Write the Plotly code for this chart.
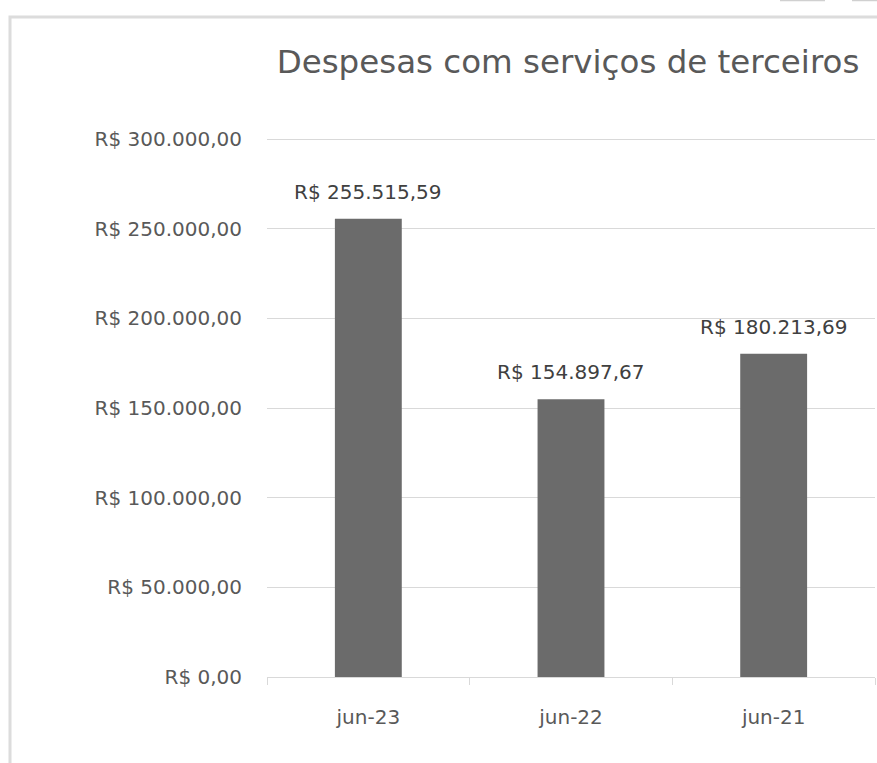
import plotly.graph_objects as go

categories = ["jun-23", "jun-22", "jun-21"]
values = [255515.59, 154897.67, 180213.69]
y_ticks = [0, 50000, 100000, 150000, 200000, 250000, 300000]
title_text = "Despesas com serviços de terceiros"


def brl(v):
    s = f"{v:,.2f}"
    s = s.replace(",", "X").replace(".", ",").replace("X", ".")
    return "R$ " + s


FONT = "DejaVu Sans"
W, H = 877, 763
L, R, T, B = 267, 2, 138, 86
pw, ph = W - L - R, H - T - B


def px_x(p):
    return (p - L) / pw


def px_y(p):
    return (H - B - p) / ph


fig = go.Figure()
fig.add_trace(go.Bar(
    x=categories, y=values,
    marker=dict(color="#6b6b6b", line=dict(width=0)),
    hoverinfo="skip",
))

for c, v in zip(categories, values):
    fig.add_annotation(
        x=c, y=v, text=brl(v), showarrow=False,
        yanchor="bottom", yshift=13,
        font=dict(family=FONT, size=20, color="#404040"),
    )

shapes = [
    dict(type="rect", xref="paper", yref="paper",
         x0=px_x(10), x1=px_x(1000), y0=px_y(900), y1=px_y(17),
         line=dict(color="#dcdcdc", width=3), fillcolor="rgba(0,0,0,0)", layer="below"),
    dict(type="line", xref="paper", yref="paper",
         x0=px_x(780), x1=px_x(825), y0=px_y(0.5), y1=px_y(0.5),
         line=dict(color="#d0d0d0", width=1.5)),
    dict(type="line", xref="paper", yref="paper",
         x0=px_x(852), x1=px_x(880), y0=px_y(0.5), y1=px_y(0.5),
         line=dict(color="#d0d0d0", width=1.5)),
]

fig.update_layout(
    width=W, height=H,
    margin=dict(l=L, r=R, t=T, b=B),
    paper_bgcolor="white", plot_bgcolor="white",
    bargap=0.67,
    showlegend=False,
    shapes=shapes,
    title=dict(
        text=title_text, xref="container", x=568 / W, xanchor="center",
        yref="container", y=1 - 62 / H, yanchor="middle",
        font=dict(family=FONT, size=32.5, color="#595959"),
    ),
    xaxis=dict(
        type="category",
        tickson="boundaries",
        ticks="outside", ticklen=7, tickcolor="#d9d9d9", tickwidth=1,
        showline=True, linecolor="#d9d9d9", linewidth=1,
        showgrid=False,
        tickfont=dict(family=FONT, size=20, color="#595959"),
        ticklabelstandoff=22,
    ),
    yaxis=dict(
        range=[0, 300600],
        tickvals=y_ticks,
        ticktext=[brl(v) for v in y_ticks],
        showgrid=True, gridcolor="#d9d9d9", gridwidth=1,
        zeroline=False,
        showline=False,
        ticks="",
        ticklabelstandoff=24,
        tickfont=dict(family=FONT, size=20, color="#595959"),
    ),
    font=dict(family=FONT),
)

fig.write_html(
    "out.html",
    config={"displayModeBar": False},
    post_script="document.body.style.margin='0';document.body.style.padding='0';",
)
